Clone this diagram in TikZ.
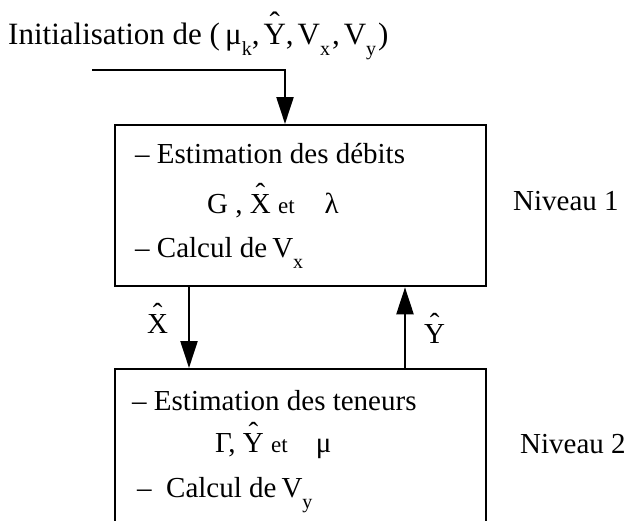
\documentclass[tikz,border=0pt]{standalone}
\usepackage{fontspec}
\setmainfont{Liberation Serif}
\usetikzlibrary{arrows.meta,positioning}

\newcommand{\sbs}[1]{\raisebox{-0.38em}{\fontsize{20}{20}\selectfont #1}}
\newcommand{\hatl}[1]{\leavevmode\ooalign{#1\cr\hidewidth\raisebox{0.34em}{\char"02C6}\hidewidth\cr}}
\newcommand{\etw}{{\fontsize{23}{23}\selectfont et}}

\begin{document}
\begin{tikzpicture}[x=1pt,y=-1pt,
  txt/.style={font=\fontsize{29}{34}\selectfont,inner sep=0pt,anchor=base west},
  levelbox/.style={draw,line width=2.3pt,inner sep=0pt,anchor=north west,minimum width=371pt},
  flow/.style={line width=2.3pt,-{Triangle[width=17pt,length=27pt]}}]
  \useasboundingbox (0,0) rectangle (635,520);
  \clip (0,0) rectangle (635,520);
  % title
  \node[txt,font=\fontsize{31}{36}\selectfont] (titre) at (8,44)
    {Initialisation de (\,μ\sbs{k},\kern4pt\hatl{Y},\kern4pt V\sbs{x}\kern2pt,\kern4pt V\sbs{y}\kern2pt)};
  % level boxes
  \node[levelbox,minimum height=161pt] (niv1) at (114,124) {};
  \node[levelbox,minimum height=175pt] (niv2) at (114,368) {};
  % level 1 text
  \node[txt] (est1) at (135,163) {– Estimation des débits};
  \node[txt] (var1) at (207,213) {G , \hatl{X} \etw\hspace{30pt}λ};
  \node[txt] (calc1) at (135,257) {– Calcul de\kern5pt V\sbs{x}};
  \node[txt] (lab1) at (513,210) {Niveau 1};
  % level 2 text
  \node[txt] (est2) at (132,410) {– Estimation des teneurs};
  \node[txt] (var2) at (215,452) {Γ, \hatl{Y} \etw\hspace{28pt}μ};
  \node[txt] (calc2) at (137,497) {–\ \ Calcul de\kern5pt V\sbs{y}};
  \node[txt] (lab2) at (520,453) {Niveau 2};
  % arrows
  \coordinate (debut) at (92,70);
  \coordinate (ia) at (285,0);
  \coordinate (xa) at (189,0);
  \coordinate (ya) at (405,0);
  \draw[flow] (debut) -| (niv1.north -| ia);
  \draw[flow] (niv1.south -| xa) -- (niv2.north -| xa);
  \draw[flow] (niv2.north -| ya) -- (niv1.south -| ya);
  \node[txt] (xhat) at (147,333) {\hatl{X}};
  \node[txt] (yhat) at (424,343) {\hatl{Y}};
\end{tikzpicture}
\end{document}
